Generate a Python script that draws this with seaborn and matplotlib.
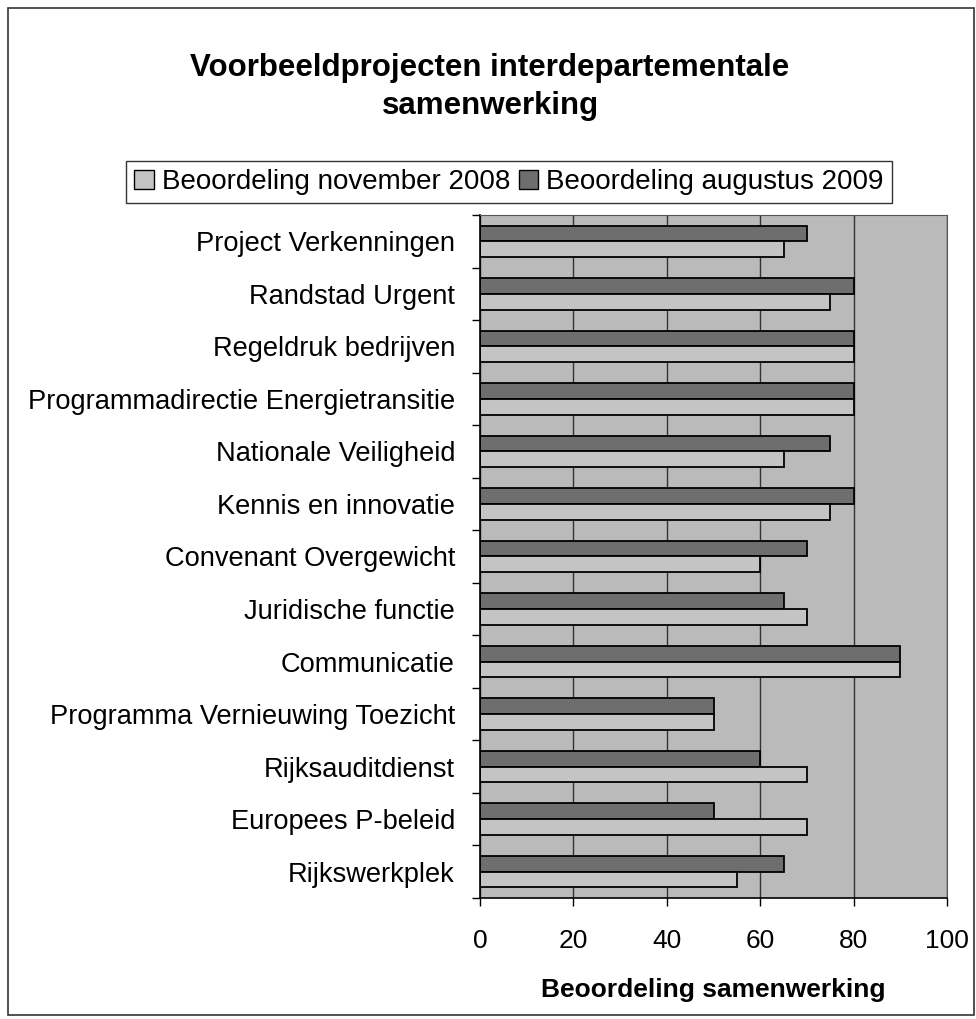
import matplotlib
matplotlib.use("Agg")
import matplotlib.pyplot as plt
import matplotlib.patches as mpatches
import seaborn as sns
import pandas as pd

projects = [
    "Project Verkenningen",
    "Randstad Urgent",
    "Regeldruk bedrijven",
    "Programmadirectie Energietransitie",
    "Nationale Veiligheid",
    "Kennis en innovatie",
    "Convenant Overgewicht",
    "Juridische functie",
    "Communicatie",
    "Programma Vernieuwing Toezicht",
    "Rijksauditdienst",
    "Europees P-beleid",
    "Rijkswerkplek",
]
nov_2008 = [65, 75, 80, 80, 65, 75, 60, 70, 90, 50, 70, 70, 55]
aug_2009 = [70, 80, 80, 80, 75, 80, 70, 65, 90, 50, 60, 50, 65]
series = ["Beoordeling november 2008", "Beoordeling augustus 2009"]

df = pd.DataFrame({
    "project": projects * 2,
    "score": nov_2008 + aug_2009,
    "periode": [series[0]] * len(projects) + [series[1]] * len(projects),
})

sns.set_style("white")
plt.rcParams["font.family"] = ["Liberation Sans", "DejaVu Sans"]
plt.rcParams["text.color"] = "black"
plt.rcParams["xtick.color"] = "black"
plt.rcParams["ytick.color"] = "black"
plt.rcParams["axes.labelcolor"] = "black"

light = "#c4c4c4"
dark = "#6e6e6e"

fig = plt.figure(figsize=(9.76, 10.19), dpi=100)
ax = fig.add_axes([480 / 976, 1 - 898 / 1019, 467 / 976, 683 / 1019])

# augustus on top of each pair
sns.barplot(data=df, y="project", x="score", hue="periode",
            hue_order=[series[1], series[0]], order=projects,
            palette={series[0]: light, series[1]: dark},
            orient="h", width=0.6, edgecolor="black", linewidth=1.3,
            legend=False, ax=ax)

ax.set_facecolor("#bababa")
ax.set_xlim(0, 100)
ax.set_ylim(len(projects) - 0.5, -0.5)
ax.set_xticks([0, 20, 40, 60, 80, 100])
ax.tick_params(axis="x", labelsize=19, length=6, width=1, direction="out",
               bottom=True, pad=16)
ax.set_yticks(range(len(projects)))
ax.set_yticklabels(projects, fontsize=19.6)
ax.tick_params(axis="y", length=0, pad=18)
# small ticks at category boundaries
ax.set_yticks([i - 0.5 for i in range(len(projects) + 1)], minor=True)
ax.tick_params(axis="y", which="minor", length=6, width=1, left=True)
ax.grid(axis="x", color="#333333", linewidth=1)
ax.set_axisbelow(True)
for s in ["top", "right"]:
    ax.spines[s].set_color("#555555")
for s in ["left", "bottom"]:
    ax.spines[s].set_color("black")
    ax.spines[s].set_linewidth(1.2)
ax.set_ylabel("")
ax.set_xlabel("Beoordeling samenwerking", fontsize=19, fontweight="bold",
              labelpad=18)

handles = [mpatches.Patch(facecolor=light, edgecolor="black", label=series[0]),
           mpatches.Patch(facecolor=dark, edgecolor="black", label=series[1])]
leg = fig.legend(handles=handles, loc="center", ncol=2,
                 bbox_to_anchor=(509 / 976, 1 - 182 / 1019), fontsize=20,
                 frameon=True, fancybox=False, edgecolor="black",
                 handlelength=0.7, handleheight=0.7, handletextpad=0.3,
                 columnspacing=0.3, borderpad=0.3)
leg.get_frame().set_linewidth(1)

fig.text(490 / 976, 1 - 68 / 1019, "Voorbeeldprojecten interdepartementale",
         ha="center", va="center", fontsize=22.5, fontweight="bold")
fig.text(490 / 976, 1 - 106 / 1019, "samenwerking",
         ha="center", va="center", fontsize=22.5, fontweight="bold")

fig.patches.append(mpatches.Rectangle((8 / 976, 4 / 1019), 966 / 976, 1007 / 1019,
                                      transform=fig.transFigure, fill=False,
                                      edgecolor="#333333", linewidth=1.2))

fig.savefig("out.png", dpi=100, facecolor="white")
